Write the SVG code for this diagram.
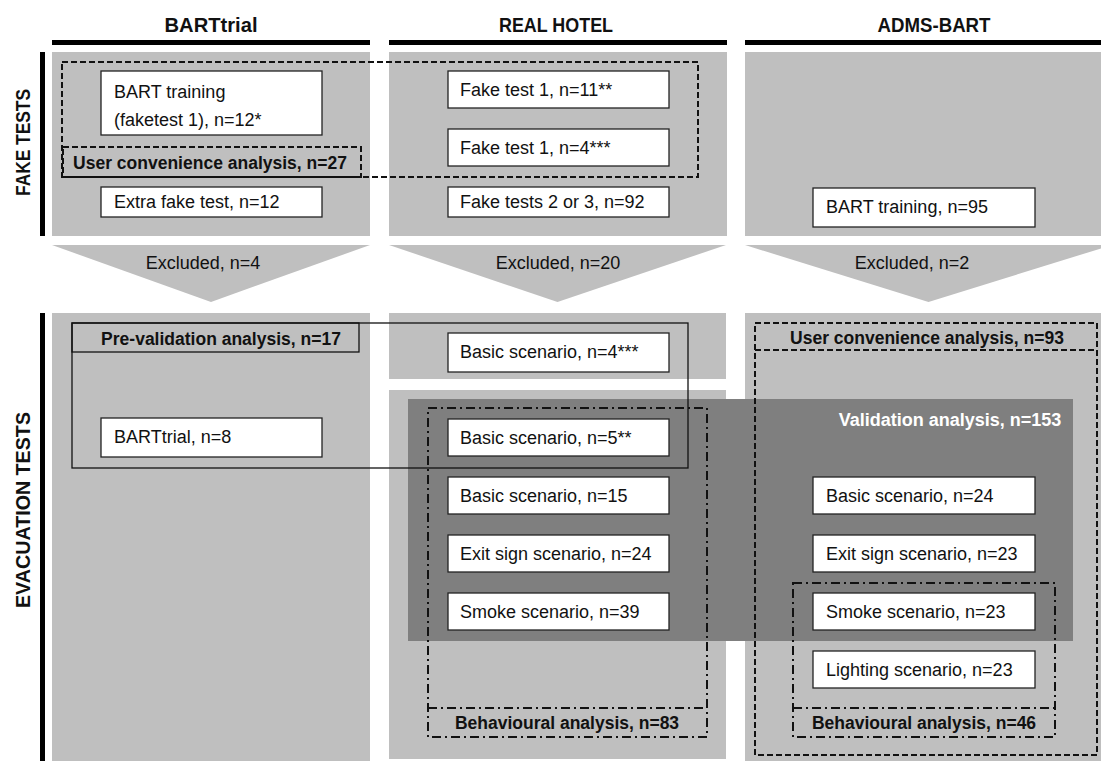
<svg xmlns="http://www.w3.org/2000/svg" width="1101" height="761" viewBox="0 0 1101 761">
  <style>
    text { font-family: "Liberation Sans", Arial, sans-serif; fill: #111; }
    .hdr { font-size: 19.5px; font-weight: bold; text-anchor: middle; }
    .side { font-size: 21px; font-weight: bold; text-anchor: middle; }
    .lbl { font-size: 18px; }
    .bold { font-size: 17.5px; font-weight: bold; text-anchor: middle; }
    .excl { font-size: 18px; text-anchor: middle; }
    .panel { fill: #bfbfbf; }
    .box { fill: #ffffff; stroke: #222; stroke-width: 1.3; }
    .dash { fill: none; stroke: #111; stroke-width: 2; stroke-dasharray: 6 3; }
    .dashdot { fill: none; stroke: #111; stroke-width: 2; stroke-dasharray: 9 4 2 4; }
    .solid { fill: none; stroke: #111; stroke-width: 1.3; }
  </style>

  <!-- column headers -->
  <g id="headers">
    <rect x="52" y="40" width="318" height="5" fill="#000"/>
    <rect x="389" y="40" width="338" height="5" fill="#000"/>
    <rect x="745" y="40" width="356" height="5" fill="#000"/>
    <text class="hdr" x="211" y="32" textLength="93" lengthAdjust="spacingAndGlyphs">BARTtrial</text>
    <text class="hdr" x="556" y="32" textLength="114" lengthAdjust="spacingAndGlyphs">REAL HOTEL</text>
    <text class="hdr" x="934" y="32" textLength="113" lengthAdjust="spacingAndGlyphs">ADMS-BART</text>
  </g>

  <!-- row labels -->
  <g id="rows">
    <rect x="40" y="52" width="5" height="184" fill="#000"/>
    <rect x="40" y="313" width="5" height="448" fill="#000"/>
    <text class="side" transform="translate(30,142.5) rotate(-90)" textLength="107" lengthAdjust="spacingAndGlyphs">FAKE TESTS</text>
    <text class="side" transform="translate(30,510) rotate(-90)" textLength="196" lengthAdjust="spacingAndGlyphs">EVACUATION TESTS</text>
  </g>

  <!-- background panels -->
  <g id="panels">
    <rect class="panel" x="52" y="52" width="318" height="184"/>
    <rect class="panel" x="389" y="52" width="338" height="184"/>
    <rect class="panel" x="745" y="52" width="356" height="184"/>
    <rect class="panel" x="52" y="313" width="318" height="448"/>
    <rect class="panel" x="389" y="313" width="337" height="66"/>
    <rect class="panel" x="389" y="390" width="337" height="369"/>
    <rect class="panel" x="745" y="313" width="356" height="448"/>
  </g>

  <!-- exclusion arrows between test phases -->
  <g id="connectors">
    <polygon class="panel" points="52,245 370,245 211,302"/>
    <polygon class="panel" points="389,245 726,245 557.5,302"/>
    <polygon class="panel" points="745,245 1112,245 928.5,302"/>
    <text class="excl" x="203" y="269">Excluded, n=4</text>
    <text class="excl" x="558" y="269">Excluded, n=20</text>
    <text class="excl" x="912" y="269">Excluded, n=2</text>
  </g>

  <!-- validation analysis area -->
  <g id="validation">
    <rect x="408" y="399" width="665" height="242" fill="#7f7f7f"/>
    <text class="bold" x="950" y="426" style="fill:#ffffff;font-size:18px">Validation analysis, n=153</text>
  </g>

  <!-- BARTtrial column -->
  <g id="bart-training-fake1">
    <rect class="box" x="101" y="71" width="221" height="64"/>
    <text class="lbl" x="114" y="98">BART training</text>
    <text class="lbl" x="114" y="126">(faketest 1), n=12*</text>
  </g>
  <g id="extra-fake-test">
    <rect class="box" x="101" y="187" width="221" height="30"/>
    <text class="lbl" x="114" y="208">Extra fake test, n=12</text>
  </g>
  <g id="barttrial-evac">
    <rect class="box" x="101" y="418" width="221" height="39"/>
    <text class="lbl" x="114" y="443">BARTtrial, n=8</text>
  </g>

  <!-- REAL HOTEL column -->
  <g id="hotel-fake1-a">
    <rect class="box" x="448" y="71" width="221" height="37"/>
    <text class="lbl" x="460" y="96">Fake test 1, n=11**</text>
  </g>
  <g id="hotel-fake1-b">
    <rect class="box" x="448" y="129" width="221" height="37"/>
    <text class="lbl" x="460" y="154">Fake test 1, n=4***</text>
  </g>
  <g id="hotel-fake23">
    <rect class="box" x="448" y="187" width="221" height="30"/>
    <text class="lbl" x="460" y="208">Fake tests 2 or 3, n=92</text>
  </g>
  <g id="hotel-basic-4">
    <rect class="box" x="448" y="333" width="221" height="39"/>
    <text class="lbl" x="460" y="358">Basic scenario, n=4***</text>
  </g>
  <g id="hotel-basic-5">
    <rect class="box" x="448" y="419" width="221" height="37"/>
    <text class="lbl" x="460" y="444">Basic scenario, n=5**</text>
  </g>
  <g id="hotel-basic-15">
    <rect class="box" x="448" y="477" width="221" height="37"/>
    <text class="lbl" x="460" y="502">Basic scenario, n=15</text>
  </g>
  <g id="hotel-exit-24">
    <rect class="box" x="448" y="535" width="221" height="37"/>
    <text class="lbl" x="460" y="560">Exit sign scenario, n=24</text>
  </g>
  <g id="hotel-smoke-39">
    <rect class="box" x="448" y="593" width="221" height="37"/>
    <text class="lbl" x="460" y="618">Smoke scenario, n=39</text>
  </g>

  <!-- ADMS-BART column -->
  <g id="adms-training">
    <rect class="box" x="813" y="188" width="222" height="39"/>
    <text class="lbl" x="826" y="213">BART training, n=95</text>
  </g>
  <g id="adms-basic-24">
    <rect class="box" x="813" y="477" width="222" height="37"/>
    <text class="lbl" x="826" y="502">Basic scenario, n=24</text>
  </g>
  <g id="adms-exit-23">
    <rect class="box" x="813" y="535" width="222" height="37"/>
    <text class="lbl" x="826" y="560">Exit sign scenario, n=23</text>
  </g>
  <g id="adms-smoke-23">
    <rect class="box" x="813" y="593" width="222" height="37"/>
    <text class="lbl" x="826" y="618">Smoke scenario, n=23</text>
  </g>
  <g id="adms-lighting-23">
    <rect class="box" x="813" y="651" width="222" height="37"/>
    <text class="lbl" x="826" y="676">Lighting scenario, n=23</text>
  </g>

  <!-- analysis groupings -->
  <g id="user-convenience-27">
    <rect class="dash" x="62" y="62" width="636" height="115"/>
    <rect class="dash" x="63" y="147" width="298" height="30"/>
    <text class="bold" x="210" y="169">User convenience analysis, n=27</text>
  </g>
  <g id="pre-validation-17">
    <rect class="solid" x="72" y="323" width="616" height="145"/>
    <rect class="solid" x="72" y="323" width="287" height="29"/>
    <text class="bold" x="221" y="345">Pre-validation analysis, n=17</text>
  </g>
  <g id="user-convenience-93">
    <rect class="dash" x="755" y="323" width="342" height="432"/>
    <line class="dash" x1="755" y1="350" x2="1097" y2="350"/>
    <text class="bold" x="927" y="344">User convenience analysis, n=93</text>
  </g>
  <g id="behavioural-83">
    <rect class="dashdot" x="428" y="408" width="279" height="329"/>
    <line class="dashdot" x1="428" y1="708" x2="707" y2="708"/>
    <text class="bold" x="567" y="729">Behavioural analysis, n=83</text>
  </g>
  <g id="behavioural-46">
    <rect class="dashdot" x="793" y="583" width="262" height="154"/>
    <line class="dashdot" x1="793" y1="708" x2="1055" y2="708"/>
    <text class="bold" x="924" y="729">Behavioural analysis, n=46</text>
  </g>
</svg>
